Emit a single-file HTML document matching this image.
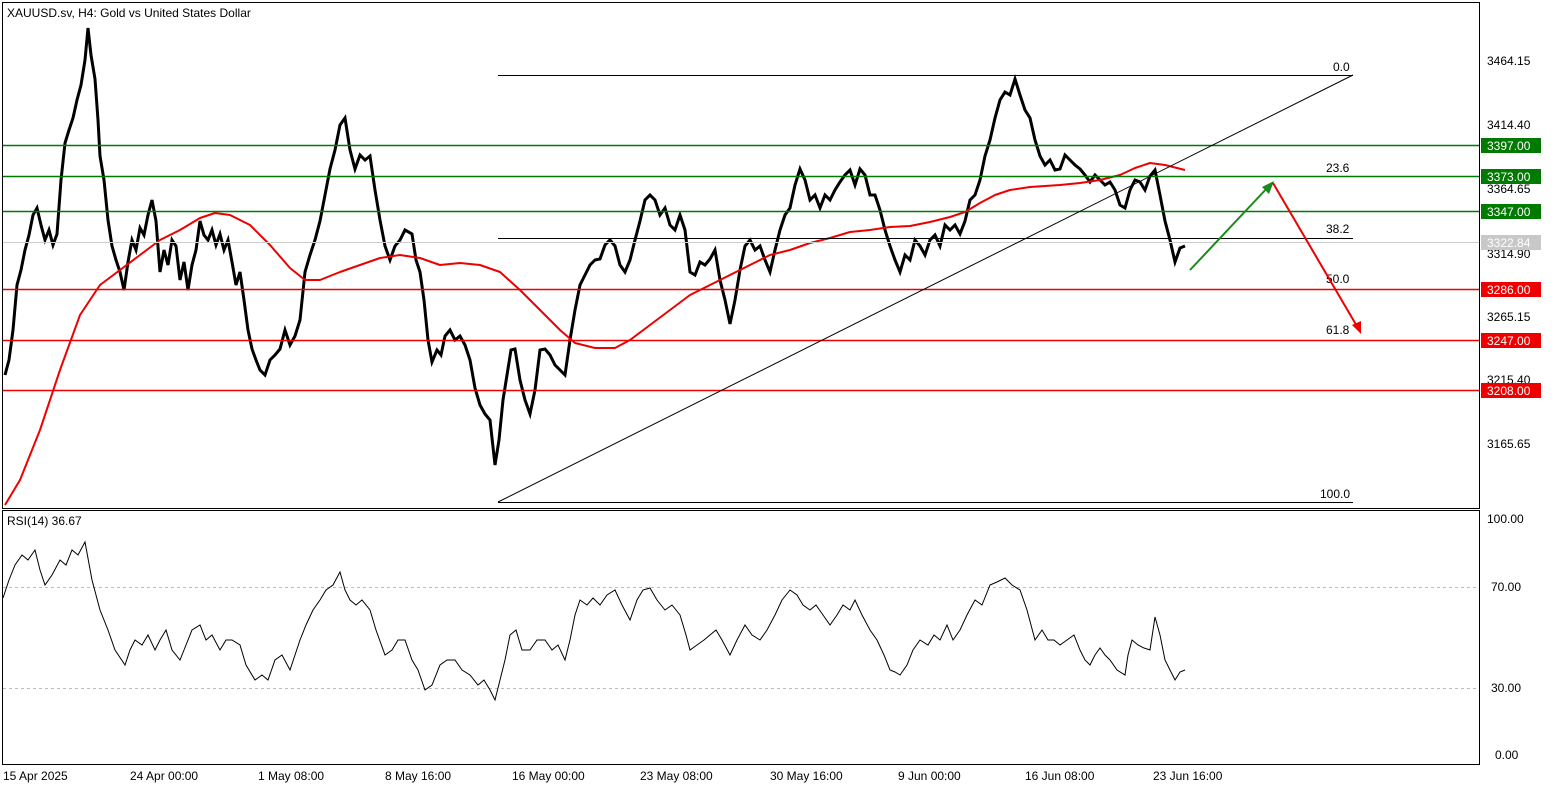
<!DOCTYPE html>
<html><head><meta charset="utf-8"><style>
body{margin:0;background:#fff;}
svg{display:block;font-family:"Liberation Sans",sans-serif;}
</style></head><body>
<svg width="1558" height="790" xmlns="http://www.w3.org/2000/svg">
<rect x="0" y="0" width="1558" height="790" fill="#fff"/>
<rect x="2.5" y="2.5" width="1477" height="506" fill="none" stroke="#000" stroke-width="1"/>
<rect x="2.5" y="510.5" width="1477" height="254" fill="none" stroke="#000" stroke-width="1"/>
<line x1="3" y1="587.5" x2="1479" y2="587.5" stroke="#bbb" stroke-dasharray="3,3"/>
<line x1="3" y1="688.5" x2="1479" y2="688.5" stroke="#bbb" stroke-dasharray="3,3"/>
<polyline fill="none" stroke="#000" stroke-width="3" stroke-linejoin="miter" points="5,375 9,360 13,330 17,285 21,270 25,250 29,235 33,215 37,208 41,225 45,240 49,230 53,245 57,234 61,180 65,143 69,130 73,118 77,100 81,85 85,60 88,28 91,55 95,79 98,120 100,156 104,180 108,220 112,246 116,260 120,272 124,290 128,262 132,240 136,250 140,228 144,235 148,215 152,200 156,221 160,272 164,250 168,265 172,240 176,246 180,280 184,262 188,290 192,265 196,250 200,221 204,235 208,240 212,230 216,245 220,234 224,250 228,240 232,262 236,285 240,272 244,300 248,330 252,349 256,360 260,370 265,375 270,360 275,355 280,349 285,330 290,345 295,336 300,320 305,272 310,255 315,240 320,221 325,195 330,169 335,150 340,125 345,118 350,150 355,169 360,155 365,160 370,156 375,190 380,220 385,246 390,260 395,246 400,240 405,230 412,234 416,260 420,272 424,300 428,340 432,362 437,350 441,355 445,336 450,330 455,340 460,336 465,345 470,360 475,388 480,405 485,414 490,420 495,465 499,440 503,400 507,375 511,350 515,349 520,380 525,400 530,414 535,390 540,350 545,349 550,355 555,365 560,370 565,375 570,340 575,310 580,285 585,275 590,265 595,260 600,259 605,245 610,240 615,246 620,265 625,272 630,260 635,240 640,221 645,200 650,195 655,200 660,215 665,208 670,225 675,230 680,215 685,230 690,272 695,275 700,262 705,265 710,259 715,250 720,280 725,300 730,324 735,300 740,270 745,246 750,240 755,250 760,246 765,260 770,272 775,250 780,230 785,215 790,208 795,185 800,169 805,180 810,200 815,195 820,208 825,195 830,200 835,190 840,182 845,175 850,170 855,185 860,169 865,175 870,195 875,195 880,210 885,230 890,246 895,260 900,272 905,255 910,260 915,240 920,246 925,255 930,240 935,235 940,246 945,225 950,230 955,225 960,234 965,221 970,200 975,195 980,180 985,156 990,140 995,118 1000,100 1005,92 1010,95 1015,79 1020,95 1025,110 1030,118 1035,140 1040,156 1045,165 1050,160 1055,170 1060,169 1065,155 1070,160 1075,165 1080,169 1085,175 1090,182 1095,175 1100,180 1105,185 1110,182 1115,190 1120,205 1125,208 1130,190 1135,180 1140,182 1145,190 1150,176 1155,170 1160,195 1165,221 1170,240 1175,262 1180,248 1185,246"/>
<polyline fill="none" stroke="#e00" stroke-width="2" stroke-linejoin="round" points="5,505 20,480 40,430 60,370 80,315 100,285 120,270 140,255 160,240 180,230 200,218 215,213 230,215 250,225 270,245 290,268 305,280 320,280 340,272 360,265 380,258 400,255 420,258 440,265 460,263 480,265 500,272 520,290 540,310 560,330 575,343 595,348 615,348 630,340 650,325 670,310 690,295 710,285 730,275 750,265 770,255 790,250 810,243 830,238 850,232 870,230 890,227 910,226 930,222 950,217 965,212 980,203 995,195 1010,190 1030,187 1060,185 1080,183 1100,180 1120,175 1135,168 1150,163 1165,165 1185,170"/>
<polyline fill="none" stroke="#000" stroke-width="1" points="3,598 9,580 15,565 22,555 28,560 35,550 40,570 45,585 52,575 60,560 66,565 72,550 78,555 85,542 92,580 100,610 108,630 115,650 125,665 130,650 135,640 142,645 148,635 155,650 160,640 166,630 172,650 180,660 186,645 192,630 200,625 206,640 212,635 220,650 226,640 232,640 240,645 246,665 255,680 262,675 268,680 275,660 282,655 290,670 300,640 306,625 313,610 320,600 326,590 333,585 340,572 345,590 350,600 356,605 362,600 370,610 376,630 385,655 392,650 398,640 405,640 412,660 418,670 425,690 432,685 440,665 447,660 455,660 462,670 470,675 478,685 484,680 490,690 495,700 500,680 505,660 510,635 516,630 522,650 530,650 537,640 545,640 552,650 558,645 565,660 570,640 575,615 580,600 587,605 593,598 600,605 607,595 615,590 622,605 630,620 637,600 643,590 650,588 657,600 665,610 672,605 680,615 686,635 690,650 697,645 704,640 710,635 716,630 722,640 730,655 737,640 745,625 752,635 760,640 767,630 775,615 782,600 790,590 797,595 803,605 810,610 816,605 823,615 830,625 837,615 843,605 850,610 855,600 862,615 870,630 877,640 884,655 890,670 895,672 900,675 907,665 913,650 920,640 928,645 934,635 940,640 947,625 953,640 960,630 967,615 975,600 982,605 990,585 997,582 1005,578 1012,585 1020,590 1027,610 1035,640 1042,630 1048,640 1054,640 1060,645 1067,640 1074,635 1080,650 1085,660 1090,665 1095,655 1100,648 1105,655 1110,660 1117,670 1125,675 1128,655 1132,640 1138,645 1144,648 1150,650 1155,617 1160,635 1165,660 1170,670 1175,680 1180,672 1185,670"/>
<g stroke-width="1.5">
<line x1="3" y1="145.5" x2="1479" y2="145.5" stroke="#007a00"/>
<line x1="3" y1="176.5" x2="1479" y2="176.5" stroke="#007a00"/>
<line x1="3" y1="211.5" x2="1479" y2="211.5" stroke="#007a00"/>
<line x1="3" y1="289.5" x2="1479" y2="289.5" stroke="#e00"/>
<line x1="3" y1="340.5" x2="1479" y2="340.5" stroke="#e00"/>
<line x1="3" y1="390.5" x2="1479" y2="390.5" stroke="#e00"/>
</g>
<line x1="3" y1="242.5" x2="1479" y2="242.5" stroke="#ccc" stroke-width="1"/>
<g stroke="#000" stroke-width="1">
<line x1="498" y1="75.5" x2="1353" y2="75.5"/>
<line x1="498" y1="238.5" x2="1353" y2="238.5"/>
<line x1="498" y1="502.5" x2="1353" y2="502.5"/>
<line x1="498" y1="502" x2="1353" y2="75"/>
</g>
<g font-size="12" fill="#000">
<text x="1333" y="71">0.0</text><text x="1326" y="172">23.6</text><text x="1326" y="233">38.2</text>
<text x="1326" y="283">50.0</text><text x="1326" y="334">61.8</text><text x="1320" y="498">100.0</text>
</g>
<g stroke-width="2" fill="none">
<line x1="1190" y1="270" x2="1270" y2="185" stroke="#1a8a1a"/>
<polygon points="1274,181 1262,187 1269,194" fill="#1a8a1a" stroke="none"/>
<line x1="1273" y1="183" x2="1358" y2="328" stroke="#e00"/>
<polygon points="1361,334 1352,325 1361,321" fill="#e00" stroke="none"/>
</g>
<g font-size="12" fill="#000">
<text x="1487" y="65">3464.15</text><text x="1487" y="129">3414.40</text><text x="1487" y="193">3364.65</text>
<text x="1487" y="258">3314.90</text><text x="1487" y="321">3265.15</text><text x="1487" y="384">3215.40</text>
<text x="1487" y="448">3165.65</text>
<text x="1487" y="523">100.00</text><text x="1491" y="591">70.00</text><text x="1491" y="692">30.00</text><text x="1495" y="759">0.00</text>
</g>
<g font-size="12">
<rect x="1481" y="138" width="60" height="15" fill="#007a00"/><text x="1487" y="150" fill="#fff">3397.00</text>
<rect x="1481" y="169" width="60" height="15" fill="#007a00"/><text x="1487" y="181" fill="#fff">3373.00</text>
<rect x="1481" y="204" width="60" height="15" fill="#007a00"/><text x="1487" y="216" fill="#fff">3347.00</text>
<rect x="1481" y="235" width="60" height="15" fill="#c8c8c8"/><text x="1487" y="247" fill="#fff">3322.84</text>
<rect x="1481" y="282" width="60" height="15" fill="#e00"/><text x="1487" y="294" fill="#fff">3286.00</text>
<rect x="1481" y="333" width="60" height="15" fill="#e00"/><text x="1487" y="345" fill="#fff">3247.00</text>
<rect x="1481" y="383" width="60" height="15" fill="#e00"/><text x="1487" y="395" fill="#fff">3208.00</text>
</g>
<g font-size="12" fill="#000">
<text x="7" y="17">XAUUSD.sv, H4:  Gold vs United States Dollar</text>
<text x="7" y="525">RSI(14) 36.67</text>
<text x="3" y="780">15 Apr 2025</text><text x="130" y="780">24 Apr 00:00</text><text x="258" y="780">1 May 08:00</text>
<text x="385" y="780">8 May 16:00</text><text x="512" y="780">16 May 00:00</text><text x="640" y="780">23 May 08:00</text>
<text x="770" y="780">30 May 16:00</text><text x="898" y="780">9 Jun 00:00</text><text x="1025" y="780">16 Jun 08:00</text>
<text x="1153" y="780">23 Jun 16:00</text>
</g>
</svg>
</body></html>
